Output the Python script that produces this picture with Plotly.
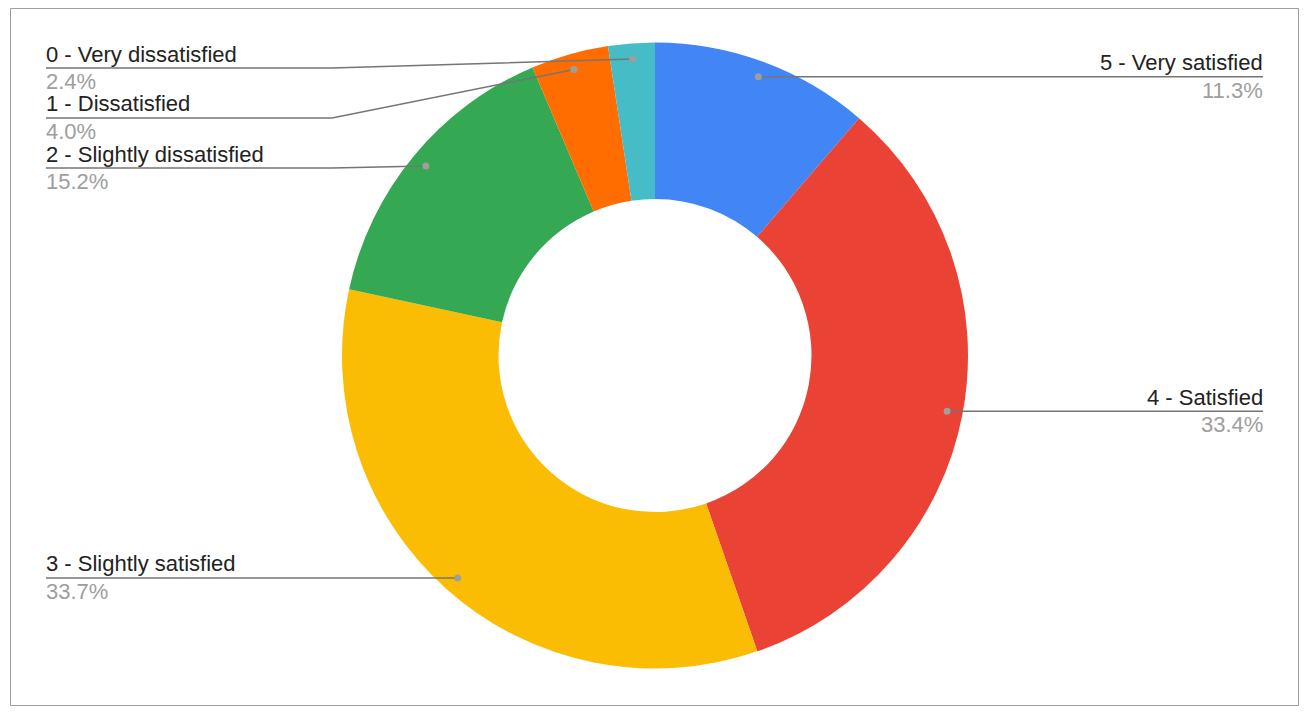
import math
import plotly.graph_objects as go

# ---- data ----
categories = ["5 - Very satisfied", "4 - Satisfied", "3 - Slightly satisfied",
              "2 - Slightly dissatisfied", "1 - Dissatisfied", "0 - Very dissatisfied"]
shares = [11.3, 33.4, 33.7, 15.2, 4.0, 2.4]
pct_labels = ["11.3%", "33.4%", "33.7%", "15.2%", "4.0%", "2.4%"]
colors = ["#4285F4", "#EA4335", "#FBBC04", "#34A853", "#FF6D01", "#46BDC6"]

# ---- layout constants (page pixels) ----
PAGE_W, PAGE_H = 1310, 716
OFF = 8  # default body margin of the page
W, H = PAGE_W - OFF, PAGE_H - OFF
CX, CY, R = 655, 355.5, 313
HOLE = 0.5
DOT_R = 0.95 * R
LEFT_X, LEFT_KINK = 46, 332
RIGHT_X, RIGHT_KINK = 1263, 978
TOP_MIN, GAP = 68, 50
FONT = "Liberation Sans, Arial, sans-serif"
FS = 22


def px(x):
    return (x - OFF) / W


def py(y):
    return 1 - (y - OFF) / H


fig = go.Figure()
fig.add_trace(go.Pie(
    labels=categories, values=shares, hole=HOLE, sort=False,
    direction="clockwise", rotation=0,
    marker=dict(colors=colors, line=dict(width=0)),
    textinfo="none", hoverinfo="label+percent", showlegend=False,
    domain=dict(x=[px(CX - R), px(CX + R)], y=[py(CY + R), py(CY - R)]),
))

# compute dot positions from values
total = sum(shares)
cum = 0.0
items = []
for cat, v, pl in zip(categories, shares, pct_labels):
    mid = (cum + v / 2) / total
    cum += v
    th = mid * 2 * math.pi
    dx = CX + DOT_R * math.sin(th)
    dy = CY - DOT_R * math.cos(th)
    items.append(dict(cat=cat, pct=pl, dx=dx, dy=dy, left=math.sin(th) < 0))

for side in (True, False):
    grp = sorted([it for it in items if it["left"] == side], key=lambda it: it["dy"])
    prev = -1e9
    for it in grp:
        ly = max(it["dy"], prev + GAP, TOP_MIN)
        it["ly"] = ly
        prev = ly

shapes = []
annotations = []
LINE_COL = "#757575"
for it in items:
    ly = it["ly"]
    if it["left"]:
        path = f"M {px(LEFT_X)} {py(ly)} L {px(LEFT_KINK)} {py(ly)} L {px(it['dx'])} {py(it['dy'])}"
        ax, anch = LEFT_X - 2, "left"
    else:
        path = f"M {px(RIGHT_X)} {py(ly)} L {px(RIGHT_KINK)} {py(ly)} L {px(it['dx'])} {py(it['dy'])}"
        ax, anch = RIGHT_X + 2, "right"
    shapes.append(dict(type="path", path=path, xref="paper", yref="paper",
                       line=dict(color=LINE_COL, width=1.5), layer="above"))
    rr = 3.5
    shapes.append(dict(type="circle", xref="paper", yref="paper",
                       x0=px(it["dx"] - rr), x1=px(it["dx"] + rr),
                       y0=py(it["dy"] + rr), y1=py(it["dy"] - rr),
                       fillcolor="#9e9e9e", line=dict(width=0), layer="above"))
    annotations.append(dict(text=it["cat"], x=px(ax), y=py(ly - 14), xref="paper", yref="paper",
                            xanchor=anch, yanchor="middle", showarrow=False,
                            font=dict(family=FONT, size=FS, color="#222222")))
    annotations.append(dict(text=it["pct"], x=px(ax), y=py(ly + 13.5), xref="paper", yref="paper",
                            xanchor=anch, yanchor="middle", showarrow=False,
                            font=dict(family=FONT, size=FS, color="#9e9e9e")))

# chart border
shapes.append(dict(type="rect", xref="paper", yref="paper",
                   x0=px(10.5), x1=px(1298.5), y0=py(705.5), y1=py(8.5),
                   line=dict(color="#9e9e9e", width=1), layer="above"))

fig.update_layout(
    width=W, height=H, margin=dict(l=0, r=0, t=0, b=0),
    paper_bgcolor="white", plot_bgcolor="white",
    shapes=shapes, annotations=annotations, showlegend=False,
)

fig.write_html("out.html")
